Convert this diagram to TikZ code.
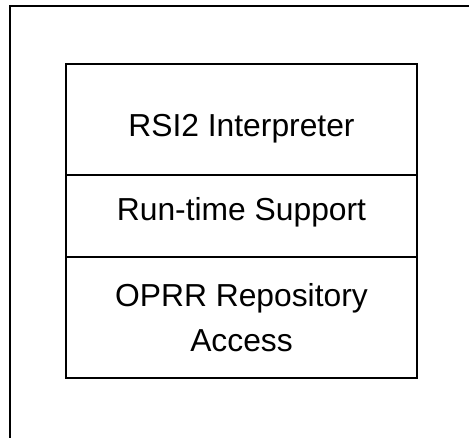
\documentclass[tikz,border=0pt]{standalone}
\usepackage{fontspec}
\setmainfont{Liberation Sans}
\begin{document}
\begin{tikzpicture}[x=1pt,y=1pt,
  layer/.style={draw, line width=1.5pt, rectangle, minimum width=351pt, inner sep=0pt, outer sep=0pt},
  lbl/.style={anchor=base, inner sep=0pt, font=\fontsize{31.8}{45}\selectfont}]
\useasboundingbox (0,0) rectangle (469,437);
\draw[line width=1.8pt] (10,-2) coordinate (oa) -- (10,431) coordinate (ob) -- (471,431) coordinate (oc);
\node[layer, minimum height=111pt] (top) at (241.5,317.5) {};
\node[layer, minimum height=82pt] (mid) at (241.5,221) {};
\node[layer, minimum height=121pt] (bot) at (241.5,119.5) {};
\node[lbl] (t1) at (241.5,300) {RSI2 Interpreter};
\node[lbl] (t2) at (241.5,216) {Run-time Support};
\node[lbl] (t3) at (241.5,130) {OPRR Repository};
\node[lbl] (t4) at (241.5,85) {Access};
\end{tikzpicture}
\end{document}
